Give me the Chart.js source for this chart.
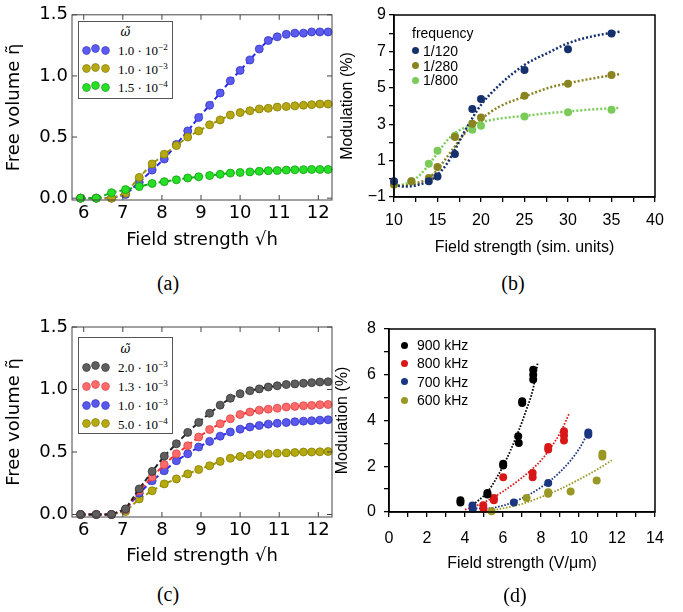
<!DOCTYPE html>
<html>
<head>
<meta charset="utf-8">
<script src="https://cdn.jsdelivr.net/npm/chart.js@4.4.1/dist/chart.umd.min.js"></script>
<style>
  body { margin: 0; background: #fff; }
  #fig { position: relative; width: 683px; height: 612px; overflow: hidden; background: #fff; }
  canvas { position: absolute; }
  .cap { position: absolute; font-family: 'Liberation Serif', serif; font-size: 20px; transform: translate(-50%, -50%); }
  .mbox { position: absolute; box-sizing: border-box; border: 1px solid #555; background: #fff; font-family: 'Liberation Serif', serif; font-size: 13px; }
  .dot { position: absolute; border-radius: 50%; }
  .lbl { position: absolute; white-space: nowrap; transform: translateY(-50%); line-height: 1; }
  .omega { font-family: 'DejaVu Serif', serif; font-style: italic; font-size: 12px; }
  .sans { position: absolute; font-family: 'Liberation Sans', Arial, sans-serif; font-size: 14px; white-space: nowrap; transform: translateY(-50%); line-height: 1; }
  sup { font-size: 9px; vertical-align: 5px; line-height: 0; }
</style>
</head>
<body>
<div id="fig">
  <canvas id="chartA" width="340" height="260" style="left:0;top:0"></canvas>
  <canvas id="chartB" width="346" height="263" style="left:337px;top:0"></canvas>
  <canvas id="chartC" width="340" height="267" style="left:0;top:310px"></canvas>
  <canvas id="chartD" width="351" height="268" style="left:332px;top:310px"></canvas>
  <div class="cap" style="left:168px;top:283px">(a)</div>
  <div class="cap" style="left:513px;top:283px">(b)</div>
  <div class="cap" style="left:168px;top:594px">(c)</div>
  <div class="cap" style="left:515px;top:595px">(d)</div>
</div>
<script>
// ---- (a) et (c) : valeurs de sqrt(h) communes
const sqrtH = [5.92, 6.32, 6.71, 7.07, 7.42, 7.75, 8.06, 8.37, 8.66, 8.94, 9.22, 9.49,
               9.75, 10.0, 10.25, 10.49, 10.72, 10.95, 11.18, 11.40, 11.62, 11.83, 12.04, 12.25];
const mplXTicks = [6, 7, 8, 9, 10, 11, 12];
const mplYTicks = [0, 0.5, 1.0, 1.5];
const mplYLabels = ['0.0', '0.5', '1.0', '1.5'];

// (a)
const aMant = ['1.0', '1.0', '1.5'];
const aExp = ['−2', '−3', '−4'];
const aBlue = [0, 0, 0, 0.03, 0.13, 0.23, 0.32, 0.44, 0.55, 0.66, 0.76, 0.86,
               0.96, 1.045, 1.13, 1.22, 1.29, 1.32, 1.34, 1.35, 1.35, 1.36, 1.36, 1.36];
const aOlive = [0, 0, 0, 0.04, 0.17, 0.28, 0.36, 0.43, 0.50, 0.55, 0.60, 0.64,
                0.68, 0.70, 0.715, 0.73, 0.735, 0.745, 0.75, 0.755, 0.76, 0.765, 0.77, 0.77];
const aGreen = [0, 0, 0.045, 0.07, 0.095, 0.12, 0.135, 0.15, 0.165, 0.175, 0.185, 0.195,
                0.205, 0.21, 0.215, 0.22, 0.225, 0.226, 0.23, 0.232, 0.233, 0.235, 0.235, 0.235];

// (c)
const cMant = ['2.0', '1.3', '1.0', '5.0'];
const cExp = ['−3', '−3', '−3', '−4'];
const cBlack = [0, 0, 0, 0.045, 0.205, 0.345, 0.467, 0.566, 0.657, 0.737, 0.81, 0.875,
                0.93, 0.966, 0.99, 1.005, 1.02, 1.03, 1.04, 1.045, 1.05, 1.055, 1.06, 1.062];
const cRed = [0, 0, 0, 0.04, 0.19, 0.30, 0.40, 0.486, 0.55, 0.62, 0.68, 0.726,
              0.766, 0.80, 0.82, 0.835, 0.843, 0.85, 0.86, 0.865, 0.87, 0.873, 0.878, 0.88];
const cBlue = [0, 0, 0, 0.04, 0.17, 0.27, 0.35, 0.43, 0.486, 0.54, 0.585, 0.627,
               0.66, 0.683, 0.70, 0.712, 0.723, 0.73, 0.736, 0.742, 0.747, 0.75, 0.755, 0.758];
const cOlive = [0, 0, 0, 0.024, 0.125, 0.19, 0.245, 0.285, 0.325, 0.36, 0.39, 0.425,
                0.45, 0.464, 0.475, 0.48, 0.486, 0.49, 0.493, 0.496, 0.5, 0.5, 0.502, 0.504];

// (b) simulation
const bLabels = ['1/120', '1/280', '1/800'];
const b120X = [10, 14, 15, 17, 19, 20, 25, 30, 35];
const b120Y = [-0.14, -0.14, 0.13, 1.36, 3.83, 4.39, 5.98, 7.12, 7.99];
const b280X = [10, 12, 14, 15, 17, 19, 20, 25, 30, 35];
const b280Y = [-0.32, -0.14, 0.04, 0.65, 2.3, 3.02, 3.37, 4.56, 5.22, 5.71];
const b800X = [10, 12, 14, 15, 17, 19, 20, 25, 30, 35];
const b800Y = [-0.32, -0.14, 0.83, 1.54, 2.36, 2.69, 2.91, 3.42, 3.66, 3.79];
const bFitX = [10, 11, 12, 13, 14, 15, 16, 17, 18, 19, 20, 22, 25, 28, 30, 33, 36];
const b120Fit = [-0.32, -0.42, -0.41, -0.3, -0.14, 0.22, 0.77, 1.6, 2.5, 3.33, 4.06, 5.1, 6.26, 6.99, 7.45, 7.85, 8.09];
const b280Fit = [-0.4, -0.38, -0.32, -0.18, 0.05, 0.5, 1.14, 1.78, 2.42, 2.91, 3.28, 3.94, 4.52, 5.03, 5.25, 5.53, 5.76];
const b800Fit = [-0.4, -0.32, -0.14, 0.22, 0.77, 1.41, 2.05, 2.51, 2.78, 2.97, 3.11, 3.3, 3.46, 3.62, 3.7, 3.82, 3.9];
const bXTicks = [10, 12.5, 15, 17.5, 20, 22.5, 25, 27.5, 30, 32.5, 35, 37.5, 40];
const bXLabels = ['10', '', '15', '', '20', '', '25', '', '30', '', '35', '', '40'];
const bYTicks = [-1, 0, 1, 2, 3, 4, 5, 6, 7, 8, 9];
const bYLabels = ['−1', '', '1', '', '3', '', '5', '', '7', '', '9'];

// (d) experience
const dLabels = ['900 kHz', '800 kHz', '700 kHz', '600 kHz'];
const d900X = [3.76, 3.76, 5.18, 5.18, 6.01, 6.01, 6.8, 6.83, 7.01, 7.01, 7.59, 7.59, 7.59];
const d900Y = [0.51, 0.42, 0.83, 0.76, 2.11, 2.03, 3.31, 3.02, 4.77, 4.84, 5.79, 6.0, 6.22];
const d800X = [4.96, 4.98, 5.52, 5.52, 6.01, 7.56, 7.56, 8.38, 8.38, 9.21, 9.21, 9.21];
const d800Y = [0.29, 0.13, 0.61, 0.51, 1.52, 1.7, 1.52, 2.84, 2.73, 3.53, 3.34, 3.13];
const d700X = [4.39, 4.41, 6.57, 8.38, 10.49, 10.49];
const d700Y = [0.28, 0.13, 0.42, 1.27, 3.48, 3.38];
const d600X = [5.4, 7.24, 8.38, 8.38, 9.56, 10.93, 11.23, 11.23];
const d600Y = [0.03, 0.61, 0.86, 0.8, 0.9, 1.38, 2.55, 2.43];
const d900FitX = [4.25, 4.7, 5.2, 5.6, 6.0, 6.4, 6.8, 7.2, 7.6, 7.82];
const d900FitY = [0.25, 0.5, 0.9, 1.4, 2.0, 2.7, 3.5, 4.4, 5.45, 6.5];
const d800FitX = [4.0, 5.0, 6.0, 7.0, 7.5, 8.0, 8.5, 9.0, 9.5];
const d800FitY = [0.1, 0.42, 0.9, 1.5, 1.85, 2.25, 2.8, 3.45, 4.33];
const d700FitX = [4.4, 5, 6, 7, 8, 9, 10, 10.55];
const d700FitY = [0.17, 0.15, 0.28, 0.6, 1.08, 1.75, 2.75, 3.6];
const d600FitX = [5.66, 7, 8, 9, 10, 11, 11.72];
const d600FitY = [0.1, 0.35, 0.65, 1.0, 1.42, 1.88, 2.26];
const dXTicks = [0, 1, 2, 3, 4, 5, 6, 7, 8, 9, 10, 11, 12, 13, 14];
const dXLabels = ['0', '', '2', '', '4', '', '6', '', '8', '', '10', '', '12', '', '14'];
const dYTicks = [0, 1, 2, 3, 4, 5, 6, 7, 8];
const dYLabels = ['0', '', '2', '', '4', '', '6', '', '8'];

// couleurs
const aFill = ['#5b5bef', '#b6a812', '#26e026'];
const aEdge = ['#3535c0', '#857c00', '#139a13'];
const aLine = ['#2323ff', '#9d960c', '#0fae0f'];
const cFill = ['#5e5e5e', '#ff6a6a', '#5858ef', '#b4a90e'];
const cEdge = ['#333333', '#d84545', '#3535c0', '#857c00'];
const cLine = ['#222222', '#ff2a2a', '#2323ff', '#9d960c'];
const bColors = ['#16306e', '#898420', '#7bcb5b'];
const dColors = ['#000000', '#d81818', '#1b3680', '#9a9824'];

Chart.defaults.font.family = "'DejaVu Sans', sans-serif";
Chart.defaults.color = '#000';

function pts(xs, ys) {
    return xs.map((x, i) => ({ x: x, y: ys[i] }));
}

// cadre autour de la zone du graphique (+ graduations internes facon matplotlib)
const framePlugin = {
    id: 'frame',
    afterDatasetsDraw(chart, args, opts) {
        const a = chart.chartArea;
        const ctx = chart.ctx;
        ctx.save();
        ctx.strokeStyle = opts.color;
        ctx.lineWidth = opts.width;
        ctx.strokeRect(a.left, a.top, a.right - a.left, a.bottom - a.top);
        if (opts.inTicks) {
            const xs = chart.scales.x, ys = chart.scales.y;
            ctx.beginPath();
            xs.ticks.forEach(t => {
                const p = xs.getPixelForValue(t.value);
                ctx.moveTo(p, a.bottom); ctx.lineTo(p, a.bottom - 5);
                ctx.moveTo(p, a.top); ctx.lineTo(p, a.top + 5);
            });
            ys.ticks.forEach(t => {
                const p = ys.getPixelForValue(t.value);
                ctx.moveTo(a.left, p); ctx.lineTo(a.left + 5, p);
                ctx.moveTo(a.right, p); ctx.lineTo(a.right - 5, p);
            });
            ctx.stroke();
        }
        ctx.restore();
    }
};

// options communes pour (a) et (c)
function mplOptions(padTop, yMin, xTitlePad) {
    return {
        responsive: false,
        animation: false,
        layout: { padding: { top: padTop, right: 8, left: 0, bottom: 0 } },
        plugins: {
            legend: { display: false },
            tooltip: { enabled: false },
            frame: { color: '#444', width: 1, inTicks: true }
        },
        scales: {
            x: {
                type: 'linear', min: 5.7, max: 12.35,
                afterBuildTicks: s => { s.ticks = mplXTicks.map(v => ({ value: v })); },
                afterFit: s => { s.height = 60; },
                grid: { display: false, drawTicks: false },
                border: { display: false },
                ticks: { font: { size: 18 }, padding: 3, autoSkip: false, maxRotation: 0, callback: (v, i) => String(mplXTicks[i]) },
                title: { display: true, text: 'Field strength √h', font: { size: 18 }, padding: { top: 0, bottom: xTitlePad } }
            },
            y: {
                type: 'linear', min: yMin, max: 1.5,
                afterBuildTicks: s => { s.ticks = mplYTicks.map(v => ({ value: v })); },
                afterFit: s => { s.width = 72; },
                grid: { display: false, drawTicks: false },
                border: { display: false },
                ticks: { font: { size: 18 }, padding: 4, autoSkip: false, callback: (v, i) => mplYLabels[i] },
                title: { display: true, text: 'Free volume η̃', font: { size: 18 }, padding: { top: 4, bottom: 0 } }
            }
        }
    };
}

function mplSeries(ys, fill, edge, line) {
    return {
        data: pts(sqrtH, ys),
        borderColor: line,
        borderWidth: 2,
        borderDash: [5, 3],
        pointRadius: 4,
        pointBackgroundColor: fill,
        pointBorderColor: edge,
        pointBorderWidth: 0.8,
        clip: false,
        fill: false
    };
}

// graphique (a)
new Chart(document.getElementById('chartA'), {
    type: 'line',
    data: { datasets: [aGreen, aOlive, aBlue].map((ys, k) => mplSeries(ys, aFill[2 - k], aEdge[2 - k], aLine[2 - k])) },
    options: mplOptions(14, -0.015, 9),
    plugins: [framePlugin]
});

// graphique (c)
new Chart(document.getElementById('chartC'), {
    type: 'line',
    data: { datasets: [cBlack, cRed, cBlue, cOlive].map((ys, k) => mplSeries(ys, cFill[k], cEdge[k], cLine[k])) },
    options: mplOptions(17, -0.02, 9.5),
    plugins: [framePlugin]
});

// options communes pour (b) et (d)
function paperOptions(o) {
    return {
        responsive: false,
        animation: false,
        layout: { padding: { top: o.top, right: 28, left: 0, bottom: 0 } },
        plugins: {
            legend: { display: false },
            tooltip: { enabled: false },
            frame: { color: '#000', width: 1.5, inTicks: false }
        },
        scales: {
            x: {
                type: 'linear', min: o.xTicks[0], max: o.xTicks[o.xTicks.length - 1],
                afterBuildTicks: s => { s.ticks = o.xTicks.map(v => ({ value: v })); },
                afterFit: s => { s.height = 66; },
                grid: { drawOnChartArea: false, drawTicks: true, tickLength: 5, color: '#000', lineWidth: 1.3 },
                border: { color: '#000', width: 1.5 },
                ticks: { font: { family: "'Liberation Sans', Arial, sans-serif", size: 16 }, padding: o.xPad, autoSkip: false, maxRotation: 0,
                         callback: (v, i) => o.xLabels[i] },
                title: { display: true, text: o.xTitle, font: { family: "'Liberation Sans', Arial, sans-serif", size: 16 },
                         padding: { top: 0, bottom: o.xTitlePad } }
            },
            y: {
                type: 'linear', min: o.yTicks[0], max: o.yTicks[o.yTicks.length - 1],
                afterBuildTicks: s => { s.ticks = o.yTicks.map(v => ({ value: v })); },
                afterFit: s => { s.width = 57; },
                grid: { drawOnChartArea: false, drawTicks: true, tickLength: 5, color: '#000', lineWidth: 1.3 },
                border: { color: '#000', width: 1.5 },
                ticks: { font: { family: "'Liberation Sans', Arial, sans-serif", size: 16 }, padding: o.yPad, autoSkip: false,
                         callback: (v, i) => o.yLabels[i] },
                title: { display: true, text: 'Modulation (%)', font: { family: "'Liberation Sans', Arial, sans-serif", size: 16 },
                         padding: { top: 0.5, bottom: 0 } }
            }
        }
    };
}

function dots(xs, ys, color) {
    return { type: 'scatter', data: pts(xs, ys), showLine: false, pointRadius: 4, pointBackgroundColor: color,
             pointBorderColor: color, pointBorderWidth: 0, clip: false };
}

function fitLine(xs, ys, color, width, dash) {
    return { type: 'line', data: pts(xs, ys), borderColor: color, borderWidth: width, borderDash: dash,
             pointRadius: 0, cubicInterpolationMode: 'monotone', clip: false, fill: false };
}

// graphique (b)
new Chart(document.getElementById('chartB'), {
    type: 'line',
    data: {
        datasets: [
            dots(b120X, b120Y, bColors[0]),
            dots(b280X, b280Y, bColors[1]),
            dots(b800X, b800Y, bColors[2]),
            fitLine(bFitX, b120Fit, bColors[0], 2.5, [2, 2]),
            fitLine(bFitX, b280Fit, bColors[1], 2.5, [2, 2]),
            fitLine(bFitX, b800Fit, bColors[2], 2.5, [2, 2])
        ]
    },
    options: paperOptions({ top: 15, xTicks: bXTicks, xLabels: bXLabels, yTicks: bYTicks, yLabels: bYLabels,
                            xPad: 9, yPad: 3, xTitle: 'Field strength (sim. units)', xTitlePad: 5.5 }),
    plugins: [framePlugin]
});

// graphique (d)
new Chart(document.getElementById('chartD'), {
    type: 'line',
    data: {
        datasets: [
            dots(d900X, d900Y, dColors[0]),
            dots(d800X, d800Y, dColors[1]),
            dots(d700X, d700Y, dColors[2]),
            dots(d600X, d600Y, dColors[3]),
            fitLine(d900FitX, d900FitY, dColors[0], 1.8, [1.6, 1.6]),
            fitLine(d800FitX, d800FitY, dColors[1], 1.8, [1.6, 1.6]),
            fitLine(d700FitX, d700FitY, dColors[2], 1.8, [1.6, 1.6]),
            fitLine(d600FitX, d600FitY, dColors[3], 1.8, [1.6, 1.6])
        ]
    },
    options: paperOptions({ top: 19, xTicks: dXTicks, xLabels: dXLabels, yTicks: dYTicks, yLabels: dYLabels,
                            xPad: 12, yPad: 8, xTitle: 'Field strength (V/μm)', xTitlePad: 5 }),
    plugins: [framePlugin]
});

// legendes encadrees (a) et (c)
function mplLegend(left, top, width, height, titleY, rowsY, mant, exps, fills, edges) {
    const box = document.createElement('div');
    box.className = 'mbox';
    box.style.cssText = 'left:' + left + 'px;top:' + top + 'px;width:' + width + 'px;height:' + height + 'px';
    let html = '<div class="lbl omega" style="left:0;width:' + (width - 2) + 'px;text-align:center;top:' + titleY + 'px">ω̃</div>';
    rowsY.forEach((y, i) => {
        [7, 16.5, 26].forEach((cx, k) => {
            const dy = k === 1 ? -1.5 : 0;
            html += '<div class="dot" style="left:' + (cx - 3.5) + 'px;top:' + (y - 3.5 + dy) + 'px;width:7px;height:7px;background:' +
                    fills[i] + ';box-shadow:0 0 0 0.7px ' + edges[i] + '"></div>';
        });
        html += '<div class="lbl" style="left:39px;top:' + y + 'px">' + mant[i] + ' · 10<sup>' + exps[i] + '</sup></div>';
    });
    box.innerHTML = html;
    document.getElementById('fig').appendChild(box);
}

mplLegend(78, 21, 95, 78, 10, [28, 46.5, 65], aMant, aExp, aFill, aEdge);
mplLegend(78, 337, 95, 97, 11, [29, 48, 67, 85.5], cMant, cExp, cFill, cEdge);

// legendes simples (b) et (d)
function dotLegend(dotX, textX, rowsY, labels, colors, title, titleY) {
    const fig = document.getElementById('fig');
    let html = '';
    if (title) {
        html += '<div class="sans" style="left:' + (dotX - 3) + 'px;top:' + titleY + 'px">' + title + '</div>';
    }
    rowsY.forEach((y, i) => {
        html += '<div class="dot" style="left:' + (dotX - 3.5) + 'px;top:' + (y - 3.5) + 'px;width:7px;height:7px;background:' + colors[i] + '"></div>';
        html += '<div class="sans" style="left:' + textX + 'px;top:' + y + 'px">' + labels[i] + '</div>';
    });
    fig.insertAdjacentHTML('beforeend', html);
}

dotLegend(415, 423, [50.7, 65.7, 80], bLabels, bColors, 'frequency', 33);
dotLegend(404, 417, [345, 363.3, 381.7, 400], dLabels, dColors, null, 0);
</script>
</body>
</html>
